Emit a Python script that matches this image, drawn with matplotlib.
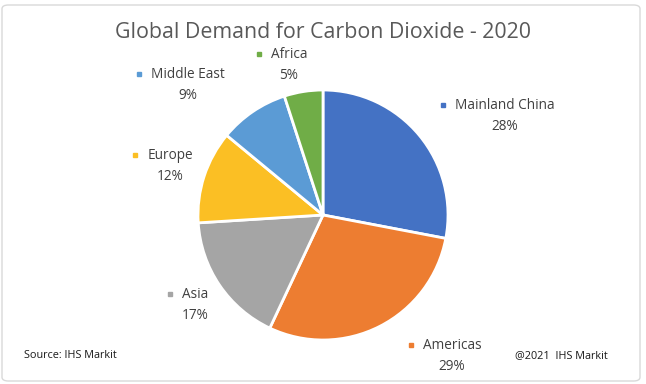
import matplotlib.pyplot as plt
from matplotlib.patches import FancyBboxPatch

regions = ['Mainland China', 'Americas', 'Asia', 'Europe', 'Middle East', 'Africa']
shares = [28, 29, 17, 12, 9, 5]
colors = ['#4472C4', '#ED7D31', '#A5A5A5', '#FBBF24', '#5B9BD5', '#70AD47']

# label centres (in pie radius units)
label_pos = [(1.456, 0.795), (1.032, -1.125), (-1.024, -0.717),
             (-1.224, 0.395), (-1.08, 1.043), (-0.272, 1.203)]

plt.rcParams['font.family'] = ['Open Sans', 'DejaVu Sans']

W, H = 646, 384
fig = plt.figure(figsize=(W / 100, H / 100), dpi=100)

# outer frame
frame = FancyBboxPatch((2 / W, 3 / H), 638 / W, 376 / H,
                       boxstyle='round,pad=0,rounding_size=0.01',
                       transform=fig.transFigure, fc='white',
                       ec='#D9D9D9', lw=1, zorder=-5)
fig.patches.append(frame)

cx, cy, r = 323, 215, 125
ax = fig.add_axes([(cx - r) / W, (H - cy - r) / H, 2 * r / W, 2 * r / H])
ax.set_zorder(2)
ax.patch.set_visible(False)
ax.pie(shares, colors=colors, startangle=90, counterclock=False,
       wedgeprops=dict(edgecolor='white', linewidth=2))
ax.set_xlim(-1, 1)
ax.set_ylim(-1, 1)
ax.set_aspect('equal')
ax.axis('off')

fig.text(0.5, 1 - 32 / H, 'Global Demand for Carbon Dioxide - 2020',
         ha='center', va='center', fontsize=15.4, color='#595959')

dy = 0.084
names = []
for name, val, (lx, ly) in zip(regions, shares, label_pos):
    t = ax.text(lx, ly + dy, name, ha='center', va='center',
                fontsize=9.8, color='#404040', clip_on=False)
    ax.text(lx, ly - dy, f'{val}%', ha='center', va='center',
            fontsize=9.8, color='#404040', clip_on=False)
    names.append(t)

fig.canvas.draw()
inv = ax.transData.inverted()
for t, col, (lx, ly) in zip(names, colors, label_pos):
    bb = t.get_window_extent()
    mx, _ = inv.transform((bb.x0 - 12, 0))
    ax.plot(mx, ly + dy, marker='s', ms=3.2, color=col, clip_on=False)

fig.text(24 / W, 1 - 356 / H, 'Source: IHS Markit', ha='left', va='center',
         fontsize=7.8, color='#1a1a1a')
fig.text(515 / W, 1 - 356 / H, '@2021  IHS Markit', ha='left', va='center',
         fontsize=7.8, color='#1a1a1a')

fig.savefig('out.png', dpi=100)
